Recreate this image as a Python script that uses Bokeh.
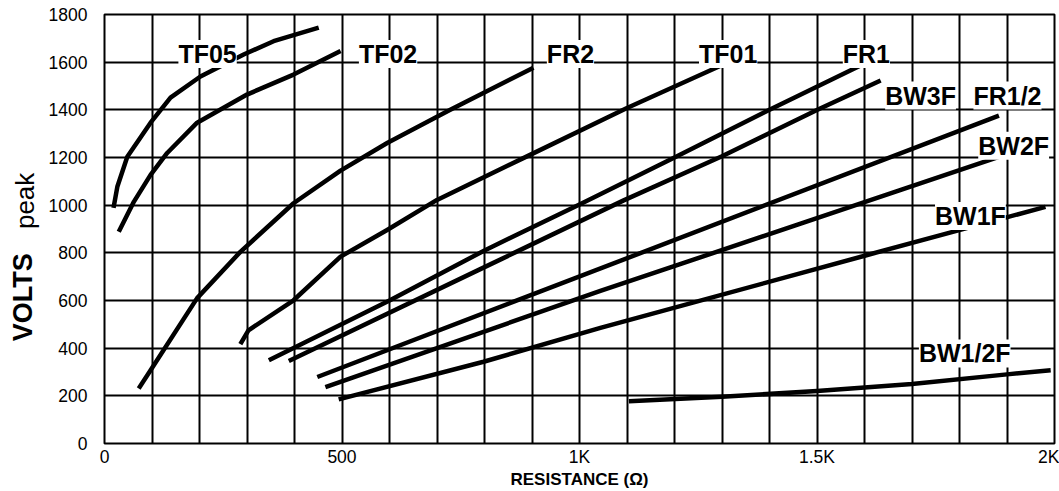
import math
from bokeh.plotting import figure
from bokeh.layouts import row
from bokeh.models import Range1d, FixedTicker, Label
from bokeh.core.properties import value
from bokeh.embed import file_html
from bokeh.resources import INLINE

# Peak voltage (V) against resistance (ohms) for each resistor type
tf05_r = [19, 27, 48, 97, 139, 202, 293, 356, 451]
tf05_v = [989, 1077, 1203, 1346, 1451, 1540, 1632, 1688, 1745]

tf02_r = [30, 62, 97, 132, 195, 300, 398, 497]
tf02_v = [888, 1015, 1127, 1219, 1346, 1464, 1548, 1647]

fr2_r = [72, 97, 195, 286, 398, 497, 596, 728, 903]
fr2_v = [231, 307, 610, 804, 1008, 1145, 1262, 1400, 1577]

tf01_r = [286, 303, 398, 497, 595, 700, 897, 1100, 1318]
tf01_v = [417, 475, 601, 784, 896, 1022, 1212, 1408, 1604]

fr1_r = [346, 600, 800, 1000, 1200, 1400, 1596]
fr1_v = [349, 600, 810, 1003, 1200, 1400, 1590]

bw3f_r = [388, 800, 1093, 1300, 1501, 1634]
bw3f_v = [346, 740, 1020, 1205, 1400, 1523]

fr1_2_r = [448, 863, 1883]
fr1_2_v = [279, 596, 1376]

bw2f_r = [465, 1044, 1897]
bw2f_v = [237, 640, 1212]

bw1f_r = [493, 798, 1044, 1606, 1981]
bw1f_v = [185, 343, 485, 791, 993]

bw1_2f_r = [1104, 1300, 1500, 1700, 1900, 1992]
bw1_2f_v = [177, 196, 220, 250, 290, 307]

series = [
    (tf05_r, tf05_v), (tf02_r, tf02_v), (fr2_r, fr2_v), (tf01_r, tf01_v),
    (fr1_r, fr1_v), (bw3f_r, bw3f_v), (fr1_2_r, fr1_2_v), (bw2f_r, bw2f_v),
    (bw1f_r, bw1f_v), (bw1_2f_r, bw1_2f_v),
]

# Curve names and where each name sits (ohms, volts at text baseline)
label_names = ["TF05", "TF02", "FR2", "TF01", "FR1", "BW3F", "FR1/2", "BW2F", "BW1F", "BW1/2F"]
label_r = [217, 597, 981, 1313, 1604, 1718, 1901, 1914, 1823, 1811]
label_v = [1634, 1634, 1634, 1634, 1634, 1460, 1460, 1249, 955, 378]

x_ticks = [0, 500, 1000, 1500, 2000]
x_tick_labels = ["0", "500", "1K", "1.5K", "2K"]
x_grid = list(range(0, 2001, 100))
y_ticks = list(range(0, 1801, 200))

# Y-axis title pieces: text, weight, size, position along the voltage scale
ytitle_text = ["VOLTS", "peak"]
ytitle_style = ["bold", "normal"]
ytitle_size = ["27px", "26px"]
ytitle_v = [614, 1018]
ytitle_x = [22, 24]

FONT = "Liberation Sans"
HEIGHT = 491
STRIP_W = 44

y_range = Range1d(0, 1800)

# Narrow strip on the left that carries the two-weight y-axis title
strip = figure(
    width=STRIP_W, height=HEIGHT,
    x_range=Range1d(0, STRIP_W), y_range=y_range,
    x_axis_type=None, y_axis_type=None,
    output_backend="svg", toolbar_location=None,
    min_border=0, outline_line_color=None,
    background_fill_color="white", border_fill_color="white",
)
strip.grid.visible = False
for t, st, sz, yv, xc in zip(ytitle_text, ytitle_style, ytitle_size, ytitle_v, ytitle_x):
    strip.text(x=[xc], y=[yv], text=[t], angle=math.pi / 2,
               text_font=value(FONT), text_font_style=st, text_font_size=sz,
               text_color="black", text_align="center", text_baseline="middle")

p = figure(
    width=1059 - STRIP_W, height=HEIGHT,
    x_range=Range1d(0, 2000), y_range=y_range,
    output_backend="svg", toolbar_location=None,
    min_border_left=104 - STRIP_W, min_border_right=5,
    min_border_top=14, min_border_bottom=48,
    background_fill_color="white", border_fill_color="white",
)

p.outline_line_color = "black"
p.outline_line_width = 2

p.xgrid.ticker = FixedTicker(ticks=x_grid)
p.ygrid.ticker = FixedTicker(ticks=y_ticks)
for g in (p.xgrid, p.ygrid):
    g.grid_line_color = "black"
    g.grid_line_width = 2
    g.grid_line_alpha = 1.0

p.xaxis.ticker = FixedTicker(ticks=x_ticks)
p.xaxis.major_label_overrides = dict(zip(x_ticks, x_tick_labels))
p.yaxis.ticker = FixedTicker(ticks=y_ticks)

for ax in (p.xaxis, p.yaxis):
    ax.axis_line_color = None
    ax.major_tick_line_color = None
    ax.minor_tick_line_color = None
    ax.major_tick_in = 0
    ax.major_tick_out = 0
    ax.major_label_text_font = FONT
    ax.major_label_text_font_size = "17.5px"
    ax.major_label_text_color = "black"
p.xaxis.major_label_standoff = 3
p.yaxis.major_label_standoff = 17

p.xaxis.axis_label = "RESISTANCE (Ω)"
p.xaxis.axis_label_standoff = 0
p.xaxis.axis_label_text_font = FONT
p.xaxis.axis_label_text_font_style = "bold"
p.xaxis.axis_label_text_font_size = "17px"
p.xaxis.axis_label_text_color = "black"

# Curve name tags on white boxes that hide the grid behind them
for name, lx, ly in zip(label_names, label_r, label_v):
    p.add_layout(Label(
        x=lx, y=ly, text=name,
        text_font=FONT, text_font_style="bold", text_font_size="25px",
        text_color="black", text_align="center", text_baseline="alphabetic",
        background_fill_color="white", background_fill_alpha=1.0, padding=0,
    ))

for r, v in series:
    p.line(r, v, line_color="black", line_width=4.5, line_cap="butt", line_join="round")

layout = row(strip, p, spacing=0)
open("out.html", "w").write(file_html(layout, INLINE))
